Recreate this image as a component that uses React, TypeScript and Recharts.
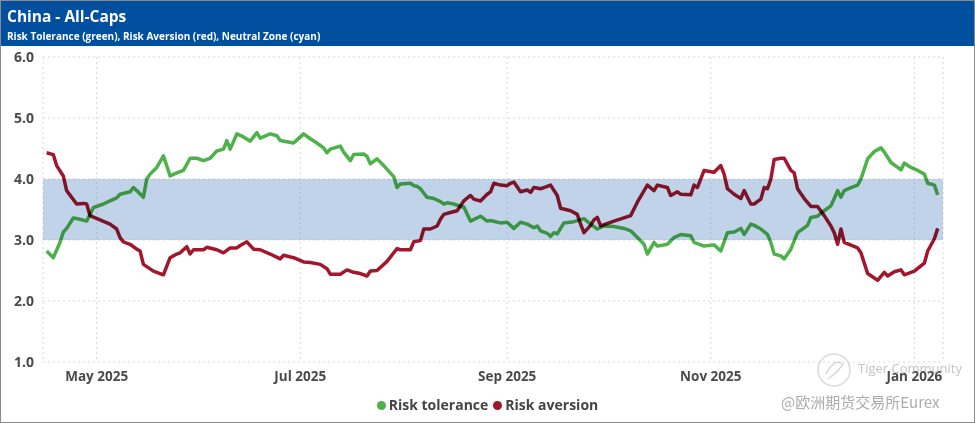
import React from "react";
import {
  LineChart,
  Line,
  XAxis,
  YAxis,
  CartesianGrid,
  ReferenceArea,
  Legend,
} from "recharts";

// ---- Data ----
const toleranceDates = [
  "2025-04-16","2025-04-18","2025-04-20","2025-04-21","2025-04-22","2025-04-24","2025-04-26","2025-04-28","2025-04-29","2025-04-30",
  "2025-05-03","2025-05-05","2025-05-07","2025-05-08","2025-05-11","2025-05-12","2025-05-13","2025-05-15","2025-05-16","2025-05-17",
  "2025-05-19","2025-05-21","2025-05-23","2025-05-25","2025-05-27","2025-05-29","2025-05-31","2025-06-02","2025-06-04","2025-06-06",
  "2025-06-08","2025-06-09","2025-06-10","2025-06-12","2025-06-14","2025-06-16","2025-06-18","2025-06-19","2025-06-22","2025-06-24",
  "2025-06-25","2025-06-29","2025-07-01","2025-07-02","2025-07-04","2025-07-06","2025-07-08","2025-07-09","2025-07-10","2025-07-13",
  "2025-07-14","2025-07-16","2025-07-17","2025-07-20","2025-07-21","2025-07-22","2025-07-24","2025-07-26","2025-07-29","2025-07-30",
  "2025-07-31","2025-08-03","2025-08-04","2025-08-05","2025-08-06","2025-08-08","2025-08-10","2025-08-12","2025-08-13","2025-08-14",
  "2025-08-16","2025-08-18","2025-08-19","2025-08-21","2025-08-24","2025-08-26","2025-08-27","2025-08-30","2025-09-01","2025-09-03",
  "2025-09-05","2025-09-07","2025-09-09","2025-09-10","2025-09-11","2025-09-13","2025-09-14","2025-09-15","2025-09-16","2025-09-18",
  "2025-09-21","2025-09-24","2025-09-26","2025-09-28","2025-09-30","2025-10-03","2025-10-06","2025-10-08","2025-10-10","2025-10-12",
  "2025-10-13","2025-10-15","2025-10-16","2025-10-19","2025-10-21","2025-10-23","2025-10-26","2025-10-27","2025-10-30","2025-11-02",
  "2025-11-04","2025-11-06","2025-11-08","2025-11-10","2025-11-11","2025-11-13","2025-11-14","2025-11-16","2025-11-18","2025-11-19",
  "2025-11-20","2025-11-22","2025-11-23","2025-11-25","2025-11-27","2025-11-30","2025-12-01","2025-12-03","2025-12-05","2025-12-07",
  "2025-12-08","2025-12-09","2025-12-10","2025-12-11","2025-12-13","2025-12-15","2025-12-16","2025-12-18","2025-12-20","2025-12-22",
  "2025-12-23","2025-12-25","2025-12-27","2025-12-28","2025-12-29","2025-12-31","2026-01-02","2026-01-04","2026-01-05","2026-01-07",
  "2026-01-08",
];
const toleranceValues = [
  2.82,2.71,2.96,3.13,3.19,3.36,3.34,3.31,3.42,3.53,
  3.59,3.64,3.69,3.75,3.79,3.86,3.81,3.70,4.00,4.08,
  4.19,4.38,4.05,4.10,4.14,4.34,4.34,4.30,4.34,4.46,
  4.49,4.63,4.49,4.74,4.69,4.62,4.76,4.67,4.74,4.71,
  4.63,4.59,4.69,4.74,4.66,4.59,4.51,4.43,4.49,4.54,
  4.44,4.30,4.40,4.41,4.37,4.25,4.33,4.22,4.04,3.86,
  3.92,3.93,3.89,3.88,3.84,3.70,3.68,3.63,3.59,3.61,
  3.59,3.55,3.54,3.31,3.39,3.31,3.32,3.28,3.29,3.19,
  3.29,3.26,3.20,3.23,3.15,3.11,3.06,3.12,3.10,3.28,
  3.30,3.35,3.26,3.18,3.23,3.22,3.19,3.15,3.04,2.93,
  2.77,2.96,2.90,2.93,3.04,3.09,3.07,2.96,2.90,2.92,
  2.82,3.12,3.13,3.19,3.09,3.26,3.24,3.18,3.09,2.96,
  2.77,2.74,2.69,2.85,3.12,3.24,3.37,3.39,3.48,3.56,
  3.68,3.81,3.70,3.81,3.86,3.90,4.00,4.33,4.45,4.51,
  4.44,4.27,4.19,4.15,4.26,4.19,4.14,4.08,3.93,3.90,
  3.74,
];

const aversionDates = [
  "2025-04-16","2025-04-18","2025-04-19","2025-04-21","2025-04-22","2025-04-25","2025-04-27","2025-04-28","2025-04-29","2025-05-02",
  "2025-05-05","2025-05-07","2025-05-08","2025-05-09","2025-05-11","2025-05-13","2025-05-14","2025-05-15","2025-05-18","2025-05-21",
  "2025-05-23","2025-05-25","2025-05-26","2025-05-28","2025-05-29","2025-05-30","2025-06-02","2025-06-03","2025-06-06","2025-06-08",
  "2025-06-10","2025-06-12","2025-06-13","2025-06-15","2025-06-17","2025-06-19","2025-06-22","2025-06-25","2025-06-26","2025-06-29",
  "2025-07-02","2025-07-04","2025-07-07","2025-07-09","2025-07-10","2025-07-13","2025-07-15","2025-07-17","2025-07-19","2025-07-21",
  "2025-07-22","2025-07-24","2025-07-27","2025-07-30","2025-07-31","2025-08-03","2025-08-04","2025-08-06","2025-08-07","2025-08-09",
  "2025-08-11","2025-08-12","2025-08-13","2025-08-15","2025-08-17","2025-08-19","2025-08-21","2025-08-22","2025-08-24","2025-08-26",
  "2025-08-27","2025-08-28","2025-08-30","2025-09-01","2025-09-02","2025-09-03","2025-09-05","2025-09-07","2025-09-08","2025-09-09",
  "2025-09-11","2025-09-12","2025-09-14","2025-09-16","2025-09-17","2025-09-20","2025-09-22","2025-09-23","2025-09-24","2025-09-26",
  "2025-09-27","2025-09-28","2025-09-29","2025-10-03","2025-10-08","2025-10-10","2025-10-13","2025-10-15","2025-10-16","2025-10-19",
  "2025-10-20","2025-10-22","2025-10-23","2025-10-26","2025-10-27","2025-10-28","2025-10-30","2025-11-02","2025-11-04","2025-11-05",
  "2025-11-06","2025-11-08","2025-11-10","2025-11-11","2025-11-13","2025-11-14","2025-11-16","2025-11-17","2025-11-18","2025-11-19",
  "2025-11-20","2025-11-22","2025-11-23","2025-11-25","2025-11-26","2025-11-27","2025-11-29","2025-12-01","2025-12-03","2025-12-05",
  "2025-12-07","2025-12-08","2025-12-09","2025-12-10","2025-12-11","2025-12-15","2025-12-16","2025-12-18","2025-12-21","2025-12-23",
  "2025-12-24","2025-12-26","2025-12-28","2025-12-29","2026-01-01","2026-01-04","2026-01-05","2026-01-07","2026-01-08",
];
const aversionValues = [
  4.43,4.40,4.22,4.05,3.81,3.59,3.60,3.59,3.40,3.33,
  3.26,3.18,3.04,2.97,2.93,2.85,2.82,2.60,2.49,2.43,
  2.71,2.77,2.79,2.89,2.77,2.84,2.84,2.88,2.84,2.79,
  2.87,2.87,2.91,2.97,2.85,2.84,2.77,2.69,2.75,2.71,
  2.64,2.63,2.60,2.53,2.44,2.44,2.51,2.47,2.45,2.41,
  2.49,2.50,2.65,2.86,2.84,2.84,2.97,2.99,3.18,3.18,
  3.23,3.34,3.42,3.45,3.48,3.64,3.73,3.67,3.64,3.75,
  3.79,3.93,3.90,3.89,3.93,3.95,3.79,3.82,3.78,3.86,
  3.84,3.86,3.90,3.73,3.52,3.48,3.42,3.26,3.12,3.24,
  3.33,3.37,3.23,3.31,3.40,3.62,3.90,3.81,3.90,3.86,
  3.73,3.79,3.75,3.74,3.90,3.86,4.14,4.11,4.22,4.08,
  3.84,3.75,3.68,3.81,3.59,3.59,3.67,3.86,3.84,4.00,
  4.32,4.34,4.34,4.14,4.10,3.84,3.68,3.55,3.55,3.40,
  3.23,3.12,2.93,3.18,2.96,2.87,2.79,2.45,2.34,2.47,
  2.41,2.48,2.51,2.43,2.49,2.62,2.82,3.02,3.19,
];

const yTicks = [1, 2, 3, 4, 5, 6];
const xTickDates = ["2025-05-01", "2025-07-01", "2025-09-01", "2025-11-01", "2026-01-01"];
const monthNames = ["Jan","Feb","Mar","Apr","May","Jun","Jul","Aug","Sep","Oct","Nov","Dec"];
const neutralLow = 3;
const neutralHigh = 4;
const domainStart = "2025-04-14T22:00:00Z";
const domainEnd = "2026-01-09T14:00:00Z";

const toTs = (d: string) => new Date(d.length === 10 ? d + "T00:00:00Z" : d).getTime();
const toleranceData = toleranceDates.map((d, i) => ({ t: toTs(d), v: toleranceValues[i] }));
const aversionData = aversionDates.map((d, i) => ({ t: toTs(d), v: aversionValues[i] }));
const xTicks = xTickDates.map(toTs);

const GREEN = "#4db24a";
const RED = "#a3172c";
const FONT = "'Open Sans', 'Noto Sans', sans-serif";

const renderLegend = () => (
  <div
    style={{
      boxSizing: "border-box",
      height: 26,
      paddingTop: 4,
      display: "flex",
      justifyContent: "center",
      alignItems: "flex-start",
      fontFamily: FONT,
      fontWeight: 700,
      fontSize: 14,
      lineHeight: "18px",
      color: "#444",
    }}
  >
    <span style={{ display: "inline-flex", alignItems: "center", marginRight: 5 }}>
      <span style={{ width: 9, height: 9, borderRadius: "50%", background: GREEN, marginRight: 3 }} />
      Risk tolerance
    </span>
    <span style={{ display: "inline-flex", alignItems: "center" }}>
      <span style={{ width: 9, height: 9, borderRadius: "50%", background: RED, marginRight: 3 }} />
      Risk aversion
    </span>
  </div>
);

export default function App() {
  return (
    <div
      style={{
        position: "absolute",
        left: 0,
        top: 0,
        width: 973,
        height: 421,
        border: "1px solid #8a8a8a",
        background: "#fff",
        overflow: "hidden",
        fontFamily: FONT,
      }}
    >
      <style>{`.risk-line .recharts-curve { mix-blend-mode: multiply; }`}</style>
      <LineChart
        width={973}
        height={421}
        margin={{ top: 56, right: 31, left: 0, bottom: 4 }}
      >
        <CartesianGrid stroke="#d9d9d9" strokeDasharray="2 3" vertical={true} />
        <ReferenceArea
          y1={neutralLow}
          y2={neutralHigh}
          x1={toTs(domainStart)}
          x2={toTs(domainEnd)}
          fill="#4a7fbf"
          fillOpacity={0.34}
          stroke="none"
          ifOverflow="hidden"
        />
        <XAxis
          type="number"
          dataKey="t"
          domain={[toTs(domainStart), toTs(domainEnd)]}
          ticks={xTicks}
          tickFormatter={(t: number) => {
            const d = new Date(t);
            return `${monthNames[d.getUTCMonth()]} ${d.getUTCFullYear()}`;
          }}
          axisLine={false}
          tickLine={false}
          tickSize={4}
          tickMargin={5}
          height={30}
          tick={{ fill: "#4a4a4a", fontSize: 13.5, fontWeight: 700, fontFamily: FONT }}
          allowDataOverflow
        />
        <YAxis
          type="number"
          domain={[1, 6]}
          ticks={yTicks}
          tickFormatter={(v: number) => v.toFixed(1)}
          axisLine={false}
          tickLine={false}
          width={42}
          tickSize={7}
          tickMargin={2}
          tick={{ fill: "#4a4a4a", fontSize: 14, fontWeight: 700, fontFamily: FONT }}
        />
        <Line
          className="risk-line"
          data={toleranceData}
          dataKey="v"
          name="Risk tolerance"
          type="linear"
          stroke={GREEN}
          strokeWidth={3.5}
          dot={false}
          activeDot={false}
          isAnimationActive={false}
          strokeLinejoin="round"
        />
        <Line
          className="risk-line"
          data={aversionData}
          dataKey="v"
          name="Risk aversion"
          type="linear"
          stroke={RED}
          strokeWidth={3.5}
          dot={false}
          activeDot={false}
          isAnimationActive={false}
          strokeLinejoin="round"
        />
        <Legend
          verticalAlign="bottom"
          content={renderLegend}
          wrapperStyle={{ left: 0, width: 973 }}
        />
      </LineChart>

      <div
        style={{
          position: "absolute",
          left: 0,
          top: 0,
          width: 973,
          height: 45,
          background: "#01509f",
          color: "#fff",
        }}
      >
        <div style={{ position: "absolute", left: 6, top: 4, fontSize: 15.5, fontWeight: 700 }}>
          China - All-Caps
        </div>
        <div style={{ position: "absolute", left: 6, top: 28, fontSize: 10, fontWeight: 700 }}>
          Risk Tolerance (green), Risk Aversion (red), Neutral Zone (cyan)
        </div>
      </div>

      <svg
        style={{ position: "absolute", left: 815, top: 351, opacity: 0.55 }}
        width={36}
        height={36}
      >
        <circle cx={18} cy={18} r={16} fill="none" stroke="#bbb" strokeWidth={1.5} />
        <path d="M10 22 Q18 6 27 12 Q22 20 12 27" fill="none" stroke="#bbb" strokeWidth={1.5} />
      </svg>
      <div
        style={{
          position: "absolute",
          left: 857,
          top: 358,
          fontSize: 13,
          color: "rgba(170,170,170,0.7)",
          fontFamily: FONT,
        }}
      >
        Tiger Community
      </div>
      <div
        style={{
          position: "absolute",
          left: 780,
          top: 390,
          fontSize: 15,
          color: "rgba(150,150,150,0.8)",
          fontFamily: "'Noto Sans CJK SC', 'Noto Sans', sans-serif",
        }}
      >
        @欧洲期货交易所Eurex
      </div>
    </div>
  );
}
